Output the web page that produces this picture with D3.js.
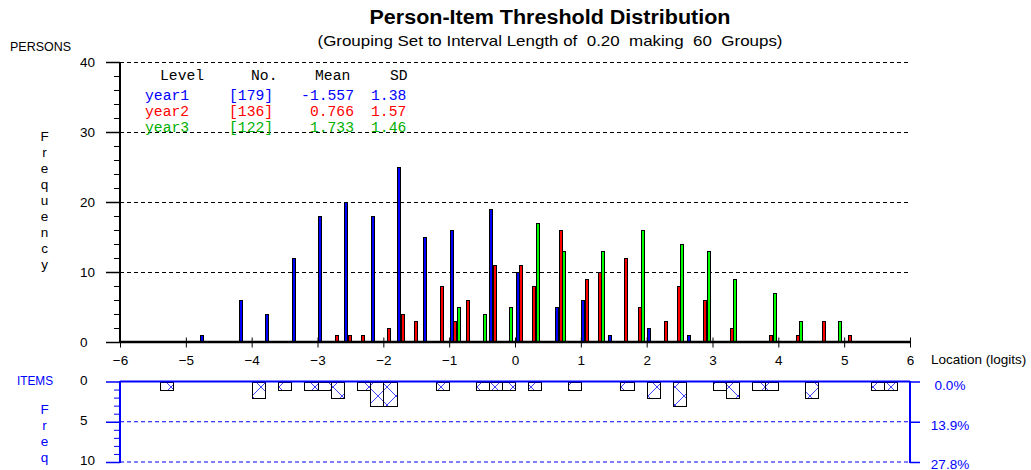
<!DOCTYPE html>
<html><head><meta charset="utf-8">
<script src="https://cdn.jsdelivr.net/npm/d3@7"></script>
<style>
body{margin:0;background:#fff;}
svg{display:block;font-family:"Liberation Sans",Arial,sans-serif;}
</style>
</head><body>
<svg id="c" width="1031" height="470"></svg>
<script>
// ---------- DATA ----------
const seriesNames = ["year1", "year2", "year3"];
const seriesColors = ["#0000ff", "#ff0000", "#00ff00"];
const legendTextColors = ["#0000ff", "#ff0000", "#00b000"];
const legendCounts = ["[179]", "[136]", "[122]"];
const legendMeans = ["-1.557", "0.766", "1.733"];
const legendSDs = ["1.38", "1.57", "1.46"];

// person bins (lower edge of each 0.2-logit interval) and frequencies
const year1Bins   = [-4.8,-4.2,-3.8,-3.4,-3.0,-2.6,-2.2,-1.8,-1.4,-1.0,-0.4,0.0,0.6,1.0,1.4,2.0,2.6];
const year1Counts = [1,6,4,12,18,20,18,25,15,16,19,10,5,6,1,2,1];
const year2Bins   = [-2.8,-2.6,-2.4,-2.0,-1.8,-1.6,-1.2,-1.0,-0.8,-0.4,0.0,0.2,0.6,1.0,1.2,1.6,1.8,2.2,2.4,2.8,3.2,3.8,4.2,4.6,5.0];
const year2Counts = [1,1,1,2,4,3,8,3,6,11,11,8,16,9,10,12,5,3,8,6,2,1,1,3,1];
const year3Bins   = [-1.0,-0.6,-0.2,0.2,0.6,1.2,1.8,2.4,2.8,3.2,3.8,4.2,4.8];
const year3Counts = [5,4,5,17,13,13,16,14,13,9,7,3,3];

// item thresholds
const itemBins   = [-5.4,-4.0,-3.6,-3.2,-3.0,-2.8,-2.4,-2.2,-2.0,-1.2,-0.6,-0.4,-0.2,0.2,0.8,1.6,2.0,2.4,3.0,3.2,3.6,3.8,4.4,5.4,5.6];
const itemCounts = [1,2,1,1,1,2,1,3,3,1,1,1,1,1,1,1,2,3,1,2,1,1,2,1,1];

const xTicks = [-6,-5,-4,-3,-2,-1,0,1,2,3,4,5,6];
const yTicks = [0,10,20,30,40];
const yMinorTicks = [2,4,6,8,12,14,16,18,22,24,26,28,32,34,36,38];
const itemTicks = [0,5,10];
const itemMinorTicks = [1,2,3,4,6,7,8,9];
const itemPctLabels = ["0.0%","13.9%","27.8%"];

// ---------- DRAW ----------
const svg = d3.select("#c");
const x = d3.scaleLinear().domain([-6, 6]).range([120, 910]);
const y = d3.scaleLinear().domain([0, 40]).range([342, 62]);
const yi = d3.scaleLinear().domain([0, 10]).range([381.5, 462]);
const gw = x(0.2) - x(0);
const inner = d3.scaleBand().domain(seriesNames).range([gw * 0.045, gw * 0.83]);

// defs: hatch
const defs = svg.append("defs");
const P = 18;
const pat = defs.append("pattern").attr("id", "hatch").attr("patternUnits", "userSpaceOnUse")
  .attr("width", P).attr("height", P);
pat.append("rect").attr("width", P).attr("height", P).attr("fill", "#fff");
pat.append("path").attr("d", `M0,0 L${P},${P} M${P},0 L0,${P}`).attr("stroke", "#3030ff").attr("stroke-width", 0.9);

// titles
svg.append("text").attr("x", 550).attr("y", 24).attr("text-anchor", "middle")
  .attr("font-size", 20).attr("font-weight", "bold").attr("textLength", 361).attr("lengthAdjust", "spacingAndGlyphs")
  .text("Person-Item Threshold Distribution");
svg.append("text").attr("x", 550).attr("y", 46).attr("text-anchor", "middle")
  .attr("font-size", 15).attr("xml:space", "preserve").style("white-space", "pre")
  .attr("textLength", 465).attr("lengthAdjust", "spacingAndGlyphs")
  .text("(Grouping Set to Interval Length of  0.20  making  60  Groups)");
svg.append("text").attr("x", 10).attr("y", 50.5).attr("font-size", 13)
  .attr("textLength", 61).attr("lengthAdjust", "spacingAndGlyphs").text("PERSONS");

// vertical Frequency
"Frequency".split("").forEach((ch, i) => {
  svg.append("text").attr("x", 44.5).attr("y", 141 + i * 16).attr("text-anchor", "middle")
    .attr("font-size", 13.5).attr("fill", "#000").text(ch);
});

// gridlines main
svg.append("g").selectAll("line").data(yTicks.filter(d => d > 0)).join("line")
  .attr("x1", x(-6)).attr("x2", x(6)).attr("y1", d => y(d) + 0.5).attr("y2", d => y(d) + 0.5)
  .attr("stroke", "#000").attr("stroke-width", 1).attr("stroke-dasharray", "4,3");

// bars
const allSeries = [
  {bins: year1Bins, counts: year1Counts},
  {bins: year2Bins, counts: year2Counts},
  {bins: year3Bins, counts: year3Counts}
];
allSeries.forEach((s, si) => {
  const data = s.bins.map((b, i) => ({b, v: s.counts[i]}));
  svg.append("g").attr("shape-rendering", "crispEdges").selectAll("rect").data(data).join("rect")
    .attr("x", d => Math.round(x(d.b) + inner(seriesNames[si])) + 0.5)
    .attr("width", 3)
    .attr("y", d => Math.round(y(d.v)) + 0.5)
    .attr("height", d => Math.round(y(0)) - Math.round(y(d.v)))
    .attr("fill", seriesColors[si]).attr("stroke", "#000").attr("stroke-width", 1);
});

// main axes
const yAxis = svg.append("g").attr("transform", "translate(120,0)")
  .call(d3.axisLeft(y).tickValues(yTicks).tickSize(14).tickFormat(""));
yAxis.select(".domain").remove();
yAxis.selectAll("line").attr("stroke-width", 1.5);
svg.append("g").selectAll("text").data(yTicks).join("text")
  .attr("x", 80).attr("y", d => y(d) + 5).attr("font-size", 13.5).text(d => d);
svg.append("g").attr("transform", "translate(120,0)")
  .call(d3.axisLeft(y).tickValues(yMinorTicks).tickSize(6).tickFormat(""))
  .select(".domain").remove();
svg.append("line").attr("x1", 120).attr("x2", 120).attr("y1", 62).attr("y2", 343)
  .attr("stroke", "#000").attr("stroke-width", 2);

const xAxis = svg.append("g").attr("transform", "translate(0,337.5)")
  .call(d3.axisBottom(x).tickValues(xTicks).tickSize(10).tickPadding(8).tickFormat(d3.format("d")));
xAxis.select(".domain").remove();
xAxis.selectAll("text").attr("font-size", 13.5).attr("font-family", "Liberation Sans, Arial").attr("fill", "#000");
svg.append("line").attr("x1", 120).attr("x2", 911).attr("y1", 342).attr("y2", 342)
  .attr("stroke", "#000").attr("stroke-width", 2.5);
svg.append("text").attr("x", 931).attr("y", 364).attr("font-size", 13.5).text("Location (logits)");

// legend table
const mono = "Liberation Mono, Courier New, monospace";
const lg = svg.append("g").attr("font-family", mono).attr("font-size", 14.7);
lg.append("text").attr("x", 160).attr("y", 80).text("Level");
lg.append("text").attr("x", 251).attr("y", 80).text("No.");
lg.append("text").attr("x", 315).attr("y", 80).text("Mean");
lg.append("text").attr("x", 390).attr("y", 80).text("SD");
seriesNames.forEach((n, i) => {
  const yy = 99.5 + i * 16;
  lg.append("text").attr("x", 145).attr("y", yy).attr("fill", legendTextColors[i]).text(n);
  lg.append("text").attr("x", 229).attr("y", yy).attr("fill", legendTextColors[i]).text(legendCounts[i]);
  lg.append("text").attr("x", 354).attr("y", yy).attr("text-anchor", "end").attr("fill", legendTextColors[i]).text(legendMeans[i]);
  lg.append("text").attr("x", 371).attr("y", yy).attr("fill", legendTextColors[i]).text(legendSDs[i]);
});

// ---------- ITEMS panel ----------
svg.append("text").attr("x", 17).attr("y", 384.5).attr("font-size", 13).attr("fill", "#0000ff")
  .attr("textLength", 36).attr("lengthAdjust", "spacingAndGlyphs").text("ITEMS");
"Freq".split("").forEach((ch, i) => {
  svg.append("text").attr("x", 44.5).attr("y", 414 + i * 16).attr("text-anchor", "middle")
    .attr("font-size", 13.5).attr("fill", "#0000ff").text(ch);
});

// item gridlines
svg.append("g").selectAll("line").data(itemTicks.filter(d => d > 0)).join("line")
  .attr("x1", x(-6)).attr("x2", x(6)).attr("y1", d => yi(d)).attr("y2", d => yi(d))
  .attr("stroke", "#0000ff").attr("stroke-width", 1).attr("stroke-dasharray", "4,3");

// item bars
const itemData = itemBins.map((b, i) => ({b, v: itemCounts[i]}));
svg.append("g").selectAll("rect").data(itemData).join("rect")
  .attr("x", d => Math.round(x(d.b)) + 0.5)
  .attr("width", d => Math.round(x(d.b + 0.2)) - Math.round(x(d.b)))
  .attr("y", Math.round(yi(0)) + 0.5)
  .attr("height", d => Math.round(yi(d.v)) - Math.round(yi(0)))
  .attr("fill", "url(#hatch)").attr("stroke", "#000").attr("stroke-width", 1);

// item axes
const yiAxis = svg.append("g").attr("transform", "translate(120,0)")
  .call(d3.axisLeft(yi).tickValues(itemTicks).tickSize(14).tickFormat(""));
yiAxis.select(".domain").remove();
yiAxis.selectAll("line").attr("stroke", "#0000ff").attr("stroke-width", 1.5);
const yiMinor = svg.append("g").attr("transform", "translate(120,0)")
  .call(d3.axisLeft(yi).tickValues(itemMinorTicks).tickSize(6).tickFormat(""));
yiMinor.select(".domain").remove();
yiMinor.selectAll("line").attr("stroke", "#0000ff");
svg.append("g").selectAll("text").data(itemTicks).join("text")
  .attr("x", 80).attr("y", d => yi(d) + 3).attr("font-size", 13.5).text(d => d);

svg.append("line").attr("x1", 120).attr("x2", 120).attr("y1", 381).attr("y2", 463)
  .attr("stroke", "#0000ff").attr("stroke-width", 2);
svg.append("line").attr("x1", 120).attr("x2", 910).attr("y1", 381.5).attr("y2", 381.5)
  .attr("stroke", "#0000ff").attr("stroke-width", 2);

const yiRight = svg.append("g").attr("transform", "translate(910,0)")
  .call(d3.axisRight(yi).tickValues(itemTicks).tickSize(10).tickFormat(""));
yiRight.select(".domain").remove();
yiRight.selectAll("line").attr("stroke", "#0000ff").attr("stroke-width", 1.5);
svg.append("line").attr("x1", 910).attr("x2", 910).attr("y1", 381).attr("y2", 463)
  .attr("stroke", "#0000ff").attr("stroke-width", 2);
svg.append("g").selectAll("text").data(itemTicks).join("text")
  .attr("x", 950).attr("y", (d) => Math.min(yi(d) + 8, 468.5)).attr("text-anchor", "middle")
  .attr("font-size", 13.5).attr("fill", "#0000ff").text((d, i) => itemPctLabels[i]);
</script>
</body></html>
